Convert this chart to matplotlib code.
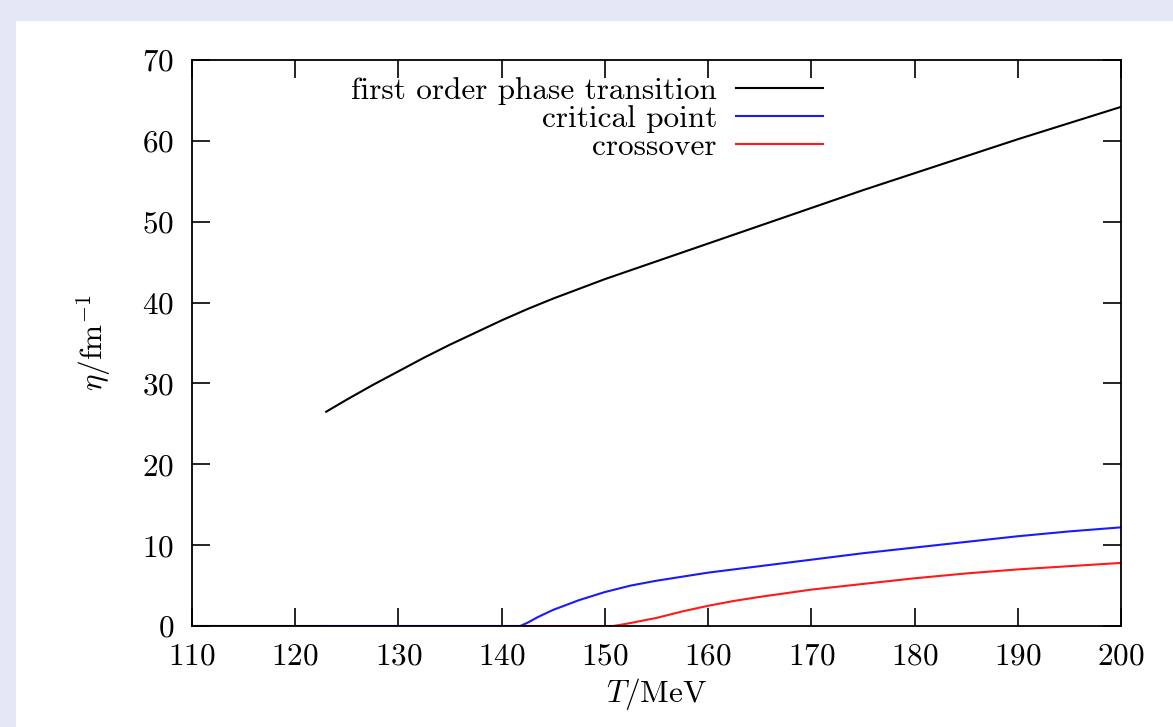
import matplotlib
matplotlib.use('Agg')
import matplotlib.pyplot as plt
from matplotlib.patches import Rectangle

plt.rcParams['font.family'] = 'serif'
plt.rcParams['font.serif'] = ['cmr10']
plt.rcParams['mathtext.fontset'] = 'cm'
plt.rcParams['axes.unicode_minus'] = False
plt.rcParams['axes.formatter.use_mathtext'] = True

# first order phase transition (zero branch + upper branch)
T_first_zero = [110, 123]
eta_first_zero = [0, 0]
T_first = [123, 125, 127.5, 130, 132.5, 135, 137.5, 140, 142.5, 145, 147.5, 150,
           155, 160, 165, 170, 175, 180, 185, 190, 195, 200]
eta_first = [26.5, 28.0, 29.8, 31.5, 33.2, 34.8, 36.3, 37.8, 39.2, 40.5, 41.7, 42.9,
             45.1, 47.3, 49.5, 51.7, 53.9, 56.0, 58.1, 60.2, 62.2, 64.2]

# critical point
T_crit = [123, 141.8, 142.5, 143.5, 145, 147.5, 150, 152.5, 155, 157.5, 160,
          162.5, 165, 167.5, 170, 175, 180, 185, 190, 195, 200]
eta_crit = [0, 0, 0.4, 1.1, 2.0, 3.2, 4.2, 5.0, 5.6, 6.1, 6.6,
            7.0, 7.4, 7.8, 8.2, 9.0, 9.7, 10.4, 11.1, 11.7, 12.2]

# crossover
T_cross = [141.8, 150.8, 152, 153, 155, 157.5, 160, 162.5, 165, 170, 175, 180, 185, 190, 195, 200]
eta_cross = [0, 0, 0.25, 0.5, 1.0, 1.8, 2.5, 3.1, 3.6, 4.5, 5.2, 5.9, 6.5, 7.0, 7.4, 7.8]

fs = 22.5

fig = plt.figure(figsize=(11.73, 7.27), dpi=100, facecolor='#e3e8f4')
fig.patches.append(Rectangle((16/1173, 0), 1, 1 - 21/727, transform=fig.transFigure,
                             facecolor='white', edgecolor='none', zorder=-10))
ax = fig.add_axes([192/1173, 1 - 626/727, 929/1173, 566/727])
ax.set_zorder(5)

ax.plot(T_first_zero, eta_first_zero, color='black', lw=1.5)
ax.plot(T_first, eta_first, color='black', lw=1.5, label='first order phase transition')
ax.plot(T_crit, eta_crit, color='#1a1aff', lw=1.5, label='critical point')
ax.plot(T_cross, eta_cross, color='#ff1a1a', lw=1.5, label='crossover')

ax.set_xlim(110, 200)
ax.set_ylim(0, 70)
ax.set_xticks(range(110, 201, 10))
ax.set_yticks(range(0, 71, 10))
ax.tick_params(direction='in', length=13, width=1.2, top=True, right=True,
               labelsize=fs)
ax.tick_params(axis='x', pad=12)
ax.tick_params(axis='y', pad=13)
for s in ax.spines.values():
    s.set_linewidth(1.3)

ax.set_xlabel(r'$T/\mathrm{MeV}$', fontsize=fs, labelpad=4)
ax.set_ylabel(r'$\eta/\mathrm{fm}^{-1}$', fontsize=fs, labelpad=20)

ax.legend(loc='upper right', bbox_to_anchor=(0.6895, 0.986), frameon=False,
          markerfirst=False, fontsize=fs, handlelength=2.8, handletextpad=0.6,
          labelspacing=0.0, borderpad=0.3, borderaxespad=0)

fig.savefig('out.png', dpi=100, facecolor=fig.get_facecolor())
